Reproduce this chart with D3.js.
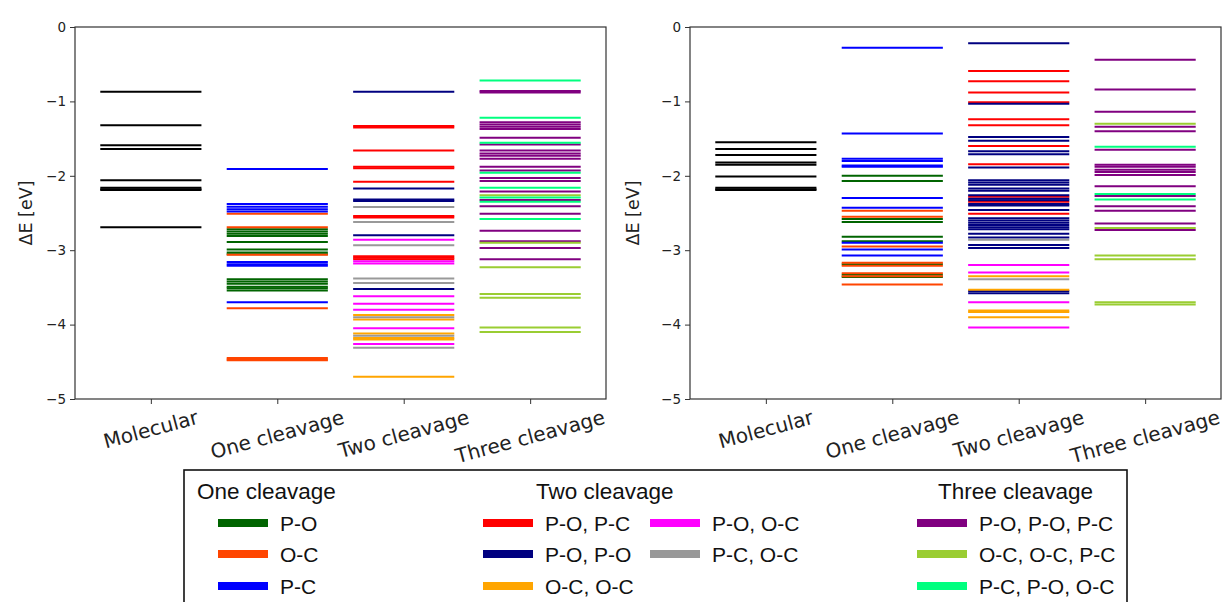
<!DOCTYPE html>
<html>
<head>
<meta charset="utf-8">
<script src="https://cdn.jsdelivr.net/npm/d3@7"></script>
<style>
  body { margin: 0; background: #fff; }
  svg { display: block; }
  .tick text { font-family: "DejaVu Sans", sans-serif; }
</style>
</head>
<body>
<svg id="chart" width="1230" height="602"></svg>
<script>
const categories = ["Molecular", "One cleavage", "Two cleavage", "Three cleavage"];
const yTicks = [0, -1, -2, -3, -4, -5];

// bond types per cleavage group (legend order)
const oneTypes = ["P-O", "O-C", "P-C"];
const twoTypes = ["P-O, P-C", "P-O, P-O", "O-C, O-C", "P-O, O-C", "P-C, O-C"];
const threeTypes = ["P-O, P-O, P-C", "O-C, O-C, P-C", "P-C, P-O, O-C"];

// ---- left panel, energies in eV ----
const leftMolecular = [-0.87, -1.32, -1.59, -1.64, -2.06, -2.16, -2.18, -2.19, -2.69];
const leftOne = {
  "P-O": [-2.72, -2.75, -2.78, -2.81, -2.89, -2.99, -3.03, -3.055, -3.39, -3.42, -3.45, -3.49, -3.51, -3.54],
  "O-C": [-2.51, -2.69, -3.06, -3.78, -4.45, -4.47, -4.48],
  "P-C": [-1.91, -2.38, -2.415, -2.45, -2.48, -3.16, -3.19, -3.21, -3.70]
};
const leftTwo = {
  "P-O, P-C": [-1.33, -1.35, -1.66, -1.88, -1.90, -2.08, -2.54, -2.56, -3.08, -3.10, -3.12],
  "P-O, P-O": [-0.87, -2.17, -2.32, -2.34, -2.80, -3.52],
  "O-C, O-C": [-3.87, -3.93, -4.12, -4.18, -4.20, -4.70],
  "P-O, O-C": [-2.86, -3.15, -3.18, -3.62, -3.72, -3.80, -4.05, -4.26],
  "P-C, O-C": [-2.42, -2.62, -2.935, -3.38, -3.44, -3.90, -4.15, -4.31]
};
const leftThree = {
  "P-O, P-O, P-C": [-0.86, -0.88, -1.28, -1.31, -1.34, -1.37, -1.49, -1.58, -1.66, -1.70, -1.73, -1.77, -1.88, -1.93, -2.03, -2.07, -2.21, -2.325, -2.41, -2.51, -2.74, -2.88, -2.97, -3.12],
  "O-C, O-C, P-C": [-2.26, -2.90, -3.23, -3.59, -3.64, -4.04, -4.10],
  "P-C, P-O, O-C": [-0.72, -1.22, -1.555, -1.96, -2.16, -2.29, -2.35, -2.58]
};

// ---- right panel ----
const rightMolecular = [-1.55, -1.64, -1.72, -1.82, -1.85, -2.01, -2.16, -2.18, -2.19];
const rightOne = {
  "P-O": [-2.00, -2.07, -2.58, -2.62, -2.82, -2.88, -3.19, -3.33, -3.36],
  "O-C": [-2.47, -2.55, -2.95, -3.17, -3.21, -3.31, -3.35, -3.46],
  "P-C": [-0.28, -1.43, -1.77, -1.80, -1.86, -1.88, -2.30, -2.43, -2.90, -2.99, -3.07]
};
const rightTwo = {
  "P-O, P-C": [-0.59, -0.73, -0.88, -1.01, -1.24, -1.32, -1.60, -1.845, -2.28, -2.35, -2.51],
  "P-O, P-O": [-0.22, -1.03, -1.48, -1.53, -1.67, -1.71, -1.89, -2.06, -2.09, -2.12, -2.17, -2.20, -2.26, -2.31, -2.33, -2.38, -2.40, -2.46, -2.57, -2.60, -2.63, -2.66, -2.69, -2.72, -2.78, -2.83, -2.93, -2.97, -3.55, -3.58],
  "O-C, O-C": [-3.35, -3.53, -3.81, -3.83, -3.90],
  "P-O, O-C": [-3.20, -3.30, -3.70, -4.04],
  "P-C, O-C": [-2.86, -3.39]
};
const rightThree = {
  "P-O, P-O, P-C": [-0.44, -0.84, -1.14, -1.34, -1.40, -1.65, -1.85, -1.88, -1.92, -1.95, -1.99, -2.14, -2.27, -2.41, -2.47, -2.64, -2.73],
  "O-C, O-C, P-C": [-1.30, -2.70, -3.07, -3.12, -3.70, -3.73],
  "P-C, P-O, O-C": [-1.61, -2.245, -2.32]
};

const allTypes = ["Molecular"].concat(oneTypes, twoTypes, threeTypes);
const colorScale = d3.scaleOrdinal()
  .domain(allTypes)
  .range(["black", "darkgreen", "orangered", "blue",
          "red", "navy", "orange", "magenta", "#999999",
          "purple", "yellowgreen", "springgreen"]);

const svg = d3.select("#chart");

// flatten one column into {cat, type, e}
const toLevels = (cat, obj) => {
  const out = [];
  Object.keys(obj).forEach(type => obj[type].forEach(e => out.push({cat, type, e})));
  return out;
};

const drawPanel = (left, right, levels, labelGap) => {
  const top = 27, bottom = 399;
  const x = d3.scaleLinear().domain([-0.6, 3.6]).range([left, right]);
  const y = d3.scaleLinear().domain([0, -5]).range([top, bottom]);
  const g = svg.append("g");

  g.append("g")
    .selectAll("line")
    .data(levels)
    .join("line")
      .attr("x1", d => x(categories.indexOf(d.cat) - 0.4))
      .attr("x2", d => x(categories.indexOf(d.cat) + 0.4))
      .attr("y1", d => y(d.e))
      .attr("y2", d => y(d.e))
      .attr("stroke", d => colorScale(d.type))
      .attr("stroke-width", 2);

  // frame
  g.append("rect")
    .attr("x", left).attr("y", top)
    .attr("width", right - left).attr("height", bottom - top)
    .attr("fill", "none").attr("stroke", "#333").attr("stroke-width", 1.2);

  const yAxis = g.append("g")
    .attr("transform", `translate(${left},0)`)
    .call(d3.axisLeft(y).tickValues(yTicks).tickSize(5).tickPadding(4)
      .tickFormat(d => d3.format("d")(d).replace("-", "\u2212")));
  yAxis.select(".domain").remove();
  yAxis.selectAll("line").attr("stroke", "#333");
  yAxis.selectAll("text").style("font-size", "13.5px").attr("fill", "#222");

  const xAxis = g.append("g")
    .attr("transform", `translate(0,${bottom})`)
    .call(d3.axisBottom(x).tickValues([0, 1, 2, 3]).tickSize(5).tickFormat(""));
  xAxis.select(".domain").remove();
  xAxis.selectAll("line").attr("stroke", "#333");

  // rotated category labels
  const ang = 15 * Math.PI / 180;
  categories.forEach((c, i) => {
    const t = g.append("text")
      .text(c)
      .attr("font-family", "DejaVu Sans, sans-serif")
      .attr("font-size", 20)
      .attr("fill", "#222")
      .attr("text-anchor", "middle")
      .attr("dominant-baseline", "central");
    const w = t.node().getComputedTextLength();
    const h = w * Math.sin(ang) + 20 * Math.cos(ang);
    t.attr("transform", `translate(${x(i)},${bottom + 8 + h / 2}) rotate(-15)`);
  });

  g.append("text")
    .text("\u0394E [eV]")
    .attr("font-family", "DejaVu Sans, sans-serif")
    .attr("font-size", 17.5)
    .attr("fill", "#222")
    .attr("text-anchor", "middle")
    .attr("transform", `translate(${left - labelGap},${(top + bottom) / 2}) rotate(-90)`);
};

const leftLevels = leftMolecular.map(e => ({cat: "Molecular", type: "Molecular", e}))
  .concat(toLevels("One cleavage", leftOne), toLevels("Two cleavage", leftTwo), toLevels("Three cleavage", leftThree));
const rightLevels = rightMolecular.map(e => ({cat: "Molecular", type: "Molecular", e}))
  .concat(toLevels("One cleavage", rightOne), toLevels("Two cleavage", rightTwo), toLevels("Three cleavage", rightThree));

drawPanel(75, 606, leftLevels, 43);
drawPanel(690, 1221, rightLevels, 51);

// ---- legend box ----
const legend = svg.append("g").attr("font-family", "Liberation Sans, Arial, sans-serif").attr("fill", "#111");
legend.append("rect")
  .attr("x", 184).attr("y", 470).attr("width", 943).attr("height", 150)
  .attr("fill", "white").attr("stroke", "#111").attr("stroke-width", 1.6);

const legendGroups = [
  {title: "One cleavage", tx: 197, cols: [{sx: 218, types: oneTypes}]},
  {title: "Two cleavage", tx: 536, cols: [{sx: 483, types: twoTypes.slice(0, 3)}, {sx: 650, types: twoTypes.slice(3)}]},
  {title: "Three cleavage", tx: 938, cols: [{sx: 917, types: threeTypes}]}
];
const rowY = [523, 554, 586];

legendGroups.forEach(grp => {
  legend.append("text").text(grp.title)
    .attr("x", grp.tx).attr("y", 499).attr("font-size", 22.5);
  grp.cols.forEach(col => {
    const items = legend.append("g").selectAll("g")
      .data(col.types)
      .join("g")
        .attr("transform", (d, i) => `translate(${col.sx},${rowY[i]})`);
    items.append("rect")
      .attr("x", 0).attr("y", -4).attr("width", 50).attr("height", 8)
      .attr("fill", d => colorScale(d));
    items.append("text").text(d => d)
      .attr("x", 62).attr("y", 7.5).attr("font-size", 21);
  });
});
</script>
</body>
</html>
